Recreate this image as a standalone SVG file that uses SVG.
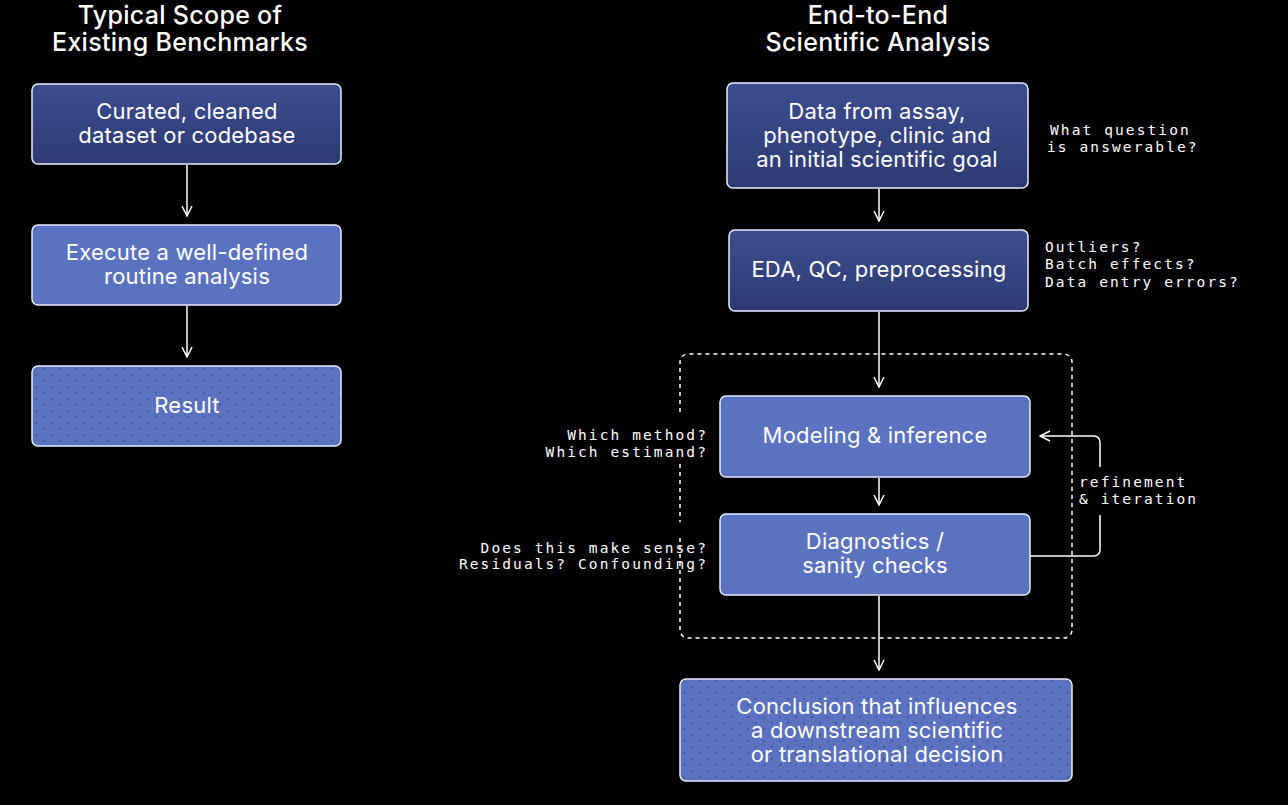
<svg xmlns="http://www.w3.org/2000/svg" width="1288" height="805" viewBox="0 0 1288 805">
<style>
.t{font-family:Inter,"Liberation Sans",sans-serif;fill:#fff;text-anchor:middle}
.h{font-size:25px;font-weight:500;letter-spacing:0.3px}
.n{font-size:22px;letter-spacing:0.2px}
.m{font-family:"DejaVu Sans Mono","Liberation Mono",monospace;font-size:14.5px;letter-spacing:2.1px;fill:#fff}
.dk{fill:url(#g);stroke:#e8ecff;stroke-width:1.5}
.lt{fill:#5b72c0;stroke:#e8ecff;stroke-width:1.5}
.dt{fill:url(#dots);stroke:#e8ecff;stroke-width:1.5}
.c{stroke:#fff;stroke-width:1.5;fill:none}
</style>
<defs>
<linearGradient id="g" x1="0" y1="0" x2="0" y2="1"><stop offset="0" stop-color="#3d4d8f"/><stop offset="1" stop-color="#2d3a72"/></linearGradient>
<pattern id="dots" width="16" height="12" patternUnits="userSpaceOnUse"><rect width="16" height="12" fill="#5b72c0"/><circle cx="4" cy="3" r="0.9" fill="#3f4f94"/><circle cx="12" cy="9" r="0.9" fill="#3f4f94"/></pattern>
<marker id="a" viewBox="0 0 12 12" refX="11" refY="6" markerWidth="12" markerHeight="12" markerUnits="userSpaceOnUse" orient="auto"><path d="M1,1 L11,6 L1,11" fill="none" stroke="#fff" stroke-width="1.5"/></marker>
</defs>
<rect width="1288" height="805" fill="#000"/>
<text class="t h" x="180" y="24">Typical Scope of</text>
<text class="t h" x="180" y="51">Existing Benchmarks</text>
<text class="t h" x="878" y="24">End-to-End</text>
<text class="t h" x="878" y="51">Scientific Analysis</text>
<g id="connectors">
<path class="c" d="M187,165 V216" marker-end="url(#a)"/>
<path class="c" d="M187,306 V357" marker-end="url(#a)"/>
<path class="c" d="M879,189 V221" marker-end="url(#a)"/>
<path class="c" d="M879,312 V387" marker-end="url(#a)"/>
<path class="c" d="M879,478 V505" marker-end="url(#a)"/>
<path class="c" d="M879,596 V670" marker-end="url(#a)"/>
<path class="c" d="M1030,556 H1094 a6,6 0 0 0 6,-6 V515 M1100,467 V442 a6,6 0 0 0 -6,-6 H1040" marker-end="url(#a)"/>
<path d="M680,538 V630 a8,8 0 0 0 8,8 H1064 a8,8 0 0 0 8,-8 V362 a8,8 0 0 0 -8,-8 H688 a8,8 0 0 0 -8,8 V415 M680,464 V522" fill="none" stroke="#fff" stroke-width="1.5" stroke-dasharray="4,4"/>
</g>
<g id="n1"><rect class="dk" x="32" y="84" width="309" height="80" rx="6"/><text class="t n" x="187" y="119">Curated, cleaned</text><text class="t n" x="187" y="143">dataset or codebase</text></g>
<g id="n2"><rect class="lt" x="32" y="225" width="309" height="80" rx="6"/><text class="t n" x="187" y="260">Execute a well-defined</text><text class="t n" x="187" y="284">routine analysis</text></g>
<g id="n3"><rect class="dt" x="32" y="366" width="309" height="80" rx="6"/><text class="t n" x="187" y="413">Result</text></g>
<g id="r1"><rect class="dk" x="727" y="83" width="301" height="105" rx="6"/><text class="t n" x="877" y="119">Data from assay,</text><text class="t n" x="877" y="143">phenotype, clinic and</text><text class="t n" x="877" y="167">an initial scientific goal</text></g>
<g id="r2"><rect class="dk" x="729" y="230" width="299" height="81" rx="6"/><text class="t n" x="879" y="277">EDA, QC, preprocessing</text></g>
<g id="r3"><rect class="lt" x="720" y="396" width="310" height="81" rx="6"/><text class="t n" x="875" y="443">Modeling &amp; inference</text></g>
<g id="r4"><rect class="lt" x="720" y="514" width="310" height="81" rx="6"/><text class="t n" x="875" y="549">Diagnostics /</text><text class="t n" x="875" y="573">sanity checks</text></g>
<g id="r5"><rect class="dt" x="680" y="679" width="392" height="102" rx="6"/><text class="t n" x="877" y="714">Conclusion that influences</text><text class="t n" x="877" y="738">a downstream scientific</text><text class="t n" x="877" y="762">or translational decision</text></g>
<g id="labels">
<text class="m" x="1050" y="135">What question</text><text class="m" x="1047" y="152">is answerable?</text>
<text class="m" x="1045" y="252">Outliers?</text><text class="m" x="1045" y="269">Batch effects?</text><text class="m" x="1045" y="287">Data entry errors?</text>
<text class="m" x="708" y="440" text-anchor="end">Which method?</text><text class="m" x="708" y="457" text-anchor="end">Which estimand?</text>
<text class="m" x="708" y="553" text-anchor="end">Does this make sense?</text><text class="m" x="708" y="569" text-anchor="end">Residuals? Confounding?</text>
<text class="m" x="1079" y="487">refinement</text><text class="m" x="1079" y="504">&amp; iteration</text>
</g>
</svg>
